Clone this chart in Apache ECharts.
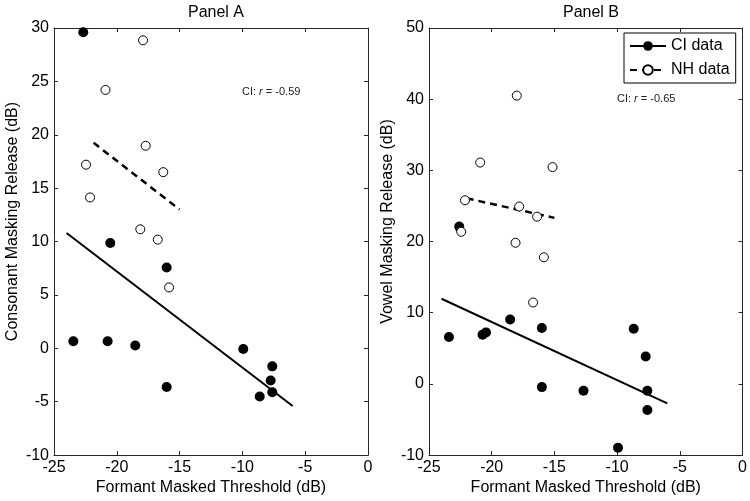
<!DOCTYPE html>
<html><head><meta charset="utf-8">
<script src="https://cdn.jsdelivr.net/npm/echarts@6/dist/echarts.min.js"></script>
<style>html,body{margin:0;padding:0;background:#fff}#c{width:750px;height:501px}</style>
</head><body><div id="c"></div>
<script>
const panelTitles = ['Panel A', 'Panel B'];
const xAxisTitle = 'Formant Masked Threshold (dB)';
const yAxisTitles = ['Consonant Masking Release (dB)', 'Vowel Masking Release (dB)'];
const legendNames = ['CI data', 'NH data'];
const corrValues = ['-0.59', '-0.65'];

// Panel A: consonant masking release
const ciA = [[-22.67,29.6],[-20.52,9.87],[-16.03,7.57],[-23.46,0.67],[-20.73,0.67],[-18.53,0.27],[-9.93,-0.07],[-7.62,-1.69],[-7.75,-3.02],[-7.62,-4.11],[-8.62,-4.51],[-16.03,-3.62]];
const nhA = [[-17.91,28.85],[-20.9,24.2],[-17.7,18.97],[-22.45,17.2],[-16.3,16.5],[-22.13,14.13],[-18.13,11.15],[-16.74,10.18],[-15.84,5.7]];
const fitCiA = [[-24.0,10.8],[-6.0,-5.4]];
const fitNhA = [[-21.85,19.25],[-15.0,13.0]];

// Panel B: vowel masking release
const ciB = [[-22.59,22.1],[-23.41,6.6],[-20.73,6.92],[-20.46,7.24],[-18.53,9.06],[-16.0,7.86],[-16.0,-0.45],[-12.68,-0.95],[-9.93,-8.98],[-8.68,7.76],[-7.72,3.85],[-7.59,-0.95],[-7.59,-3.66]];
const nhB = [[-18.0,40.5],[-20.92,31.1],[-15.15,30.46],[-22.13,25.8],[-17.81,24.92],[-16.38,23.5],[-22.43,21.37],[-18.1,19.83],[-15.84,17.79],[-16.7,11.44]];
const fitCiB = [[-24.0,11.96],[-6.0,-2.73]];
const fitNhB = [[-22.0,26.08],[-15.0,23.33]];

const xRange = {min:-25, max:0, interval:5};
const yRanges = [{min:-10, max:30, interval:5}, {min:-10, max:50, interval:10}];

const FONT = 'Liberation Sans, Arial, Helvetica, sans-serif';
const AX = '#262626';

const grids = [
  {left:54, top:28, width:314, height:429},
  {left:429, top:28, width:314, height:429}
];

function baseAxis(extra) {
  return Object.assign({
    type:'value',
    axisLine:{show:true, onZero:false, lineStyle:{color:AX, width:1}},
    axisTick:{show:true, inside:true, length:4, lineStyle:{color:AX, width:1}},
    splitLine:{show:false},
    axisLabel:{color:'#000', fontSize:16, fontFamily:FONT, margin:5}
  }, extra);
}

const xAxes = [], yAxes = [];
[0,1].forEach(i => {
  xAxes.push(baseAxis({gridIndex:i, position:'bottom', min:xRange.min, max:xRange.max, interval:xRange.interval,
    name:xAxisTitle, nameLocation:'middle', nameGap:24,
    nameTextStyle:{color:'#000', fontSize:16, fontFamily:FONT},
    axisLabel:{color:'#000', fontSize:16, fontFamily:FONT, margin:4}}));
  xAxes.push(baseAxis({gridIndex:i, position:'top', min:xRange.min, max:xRange.max, interval:xRange.interval,
    axisLabel:{show:false}}));
  yAxes.push(baseAxis({gridIndex:i, position:'left', min:yRanges[i].min, max:yRanges[i].max, interval:yRanges[i].interval,
    name:yAxisTitles[i], nameLocation:'middle', nameGap:33,
    nameTextStyle:{color:'#000', fontSize:16, fontFamily:FONT, padding:[0,0,0,40]}}));
  yAxes.push(baseAxis({gridIndex:i, position:'right', min:yRanges[i].min, max:yRanges[i].max, interval:yRanges[i].interval,
    axisLabel:{show:false}}));
});

const ciStyle = {color:'#000', opacity:1};
const nhStyle = {color:'#fff', borderColor:'#000', borderWidth:1, opacity:1};

function panelSeries(i, ci, nh, fitCi, fitNh) {
  const xi = i*2, yi = i*2;
  return [
    {type:'line', name:legendNames[0], xAxisIndex:xi, yAxisIndex:yi, data:fitCi, symbol:'circle', symbolSize:10,
     showSymbol:false, lineStyle:{color:'#000', width:2}, itemStyle:ciStyle, z:2},
    {type:'line', name:legendNames[1], xAxisIndex:xi, yAxisIndex:yi, data:fitNh, symbol:'circle', symbolSize:9,
     showSymbol:false, lineStyle:{color:'#000', width:2.5, type:[7,5]}, itemStyle:nhStyle, z:2},
    {type:'scatter', name:'CI ' + i, xAxisIndex:xi, yAxisIndex:yi, data:ci, symbol:'circle', symbolSize:10, itemStyle:ciStyle, z:3},
    {type:'scatter', name:'NH ' + i, xAxisIndex:xi, yAxisIndex:yi, data:nh, symbol:'circle', symbolSize:9, itemStyle:nhStyle, z:3}
  ];
}

function corrText(v) {
  return {
    text:'{n|CI: }{i|r}{n| = ' + v + '}',
    rich:{n:{fontSize:11, fontFamily:FONT, fill:'#222'}, i:{fontSize:11, fontFamily:FONT, fontStyle:'italic', fill:'#222'}}
  };
}

const chart = echarts.init(document.getElementById('c'), null, {renderer:'canvas'});
chart.setOption({
  animation:false,
  backgroundColor:'#fff',
  title:[
    {text:panelTitles[0], left:211, top:0, textAlign:'center', textStyle:{fontSize:16, fontWeight:'normal', color:'#000', fontFamily:FONT}},
    {text:panelTitles[1], left:586, top:0, textAlign:'center', textStyle:{fontSize:16, fontWeight:'normal', color:'#000', fontFamily:FONT}}
  ],
  grid:grids,
  xAxis:xAxes,
  yAxis:yAxes,
  legend:{
    data:legendNames, orient:'vertical', left:624, top:33,
    backgroundColor:'#fff', borderColor:'#000', borderWidth:1, borderRadius:0,
    padding:[5,6,5,5], itemWidth:36, itemHeight:12, itemGap:8, selectedMode:false,
    textStyle:{fontSize:16, color:'#000', fontFamily:FONT}
  },
  graphic:[
    {type:'text', left:242, top:86, style:corrText(corrValues[0])},
    {type:'text', left:617, top:93, style:corrText(corrValues[1])}
  ],
  series:[].concat(panelSeries(0, ciA, nhA, fitCiA, fitNhA), panelSeries(1, ciB, nhB, fitCiB, fitNhB))
});
</script></body></html>
